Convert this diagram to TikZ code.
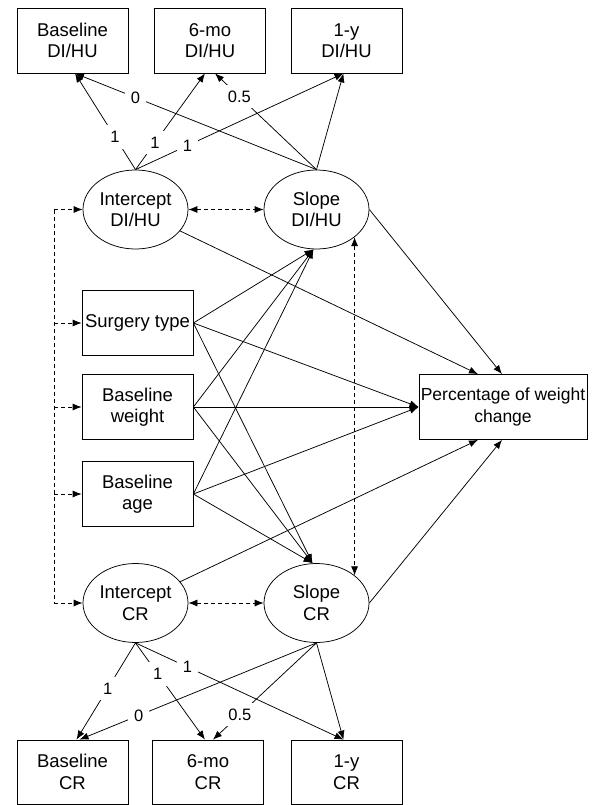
\documentclass[tikz,border=0pt]{standalone}
\usepackage{fontspec}
\setmainfont{Liberation Sans}
\usetikzlibrary{arrows.meta,shapes.geometric}
\newcommand{\boxfont}{\fontsize{18.5}{21.5}\selectfont}
\newcommand{\pctfont}{\fontsize{17.5}{21.5}\selectfont}
\newcommand{\coeffont}{\fontsize{16.5}{18}\selectfont}

\begin{document}
\begin{tikzpicture}[x=1pt,y=-1pt,font=\boxfont,line width=0.75pt,
  obs/.style={draw,rectangle,minimum width=111,minimum height=65,inner sep=0,align=center},
  lat/.style={draw,ellipse,minimum width=105,minimum height=79,inner sep=0,align=center},
  reg/.style={-{Latex[length=9pt,width=7pt]}},
  cov/.style={dash pattern=on 4pt off 3pt,{Latex[length=9pt,width=7pt]}-{Latex[length=9pt,width=7pt]}},
  cue/.style={dash pattern=on 4pt off 3pt,-{Latex[length=9pt,width=7pt]}},
  coef/.style={fill=white,inner sep=6pt,font=\coeffont}]
\useasboundingbox (0,0) rectangle (594,805);
% measured variables, DI/HU
\node[obs] (bdi) at (72.5,40.5) {Baseline\\DI/HU};
\node[obs] (mdi) at (210,40.5) {6-mo\\DI/HU};
\node[obs] (ydi) at (346.5,40.5) {1-y\\DI/HU};
% growth factors
\node[lat] (idi) at (135.5,209.5) {Intercept\\DI/HU};
\node[lat] (sdi) at (316.5,209.5) {Slope\\DI/HU};
\node[lat] (icr) at (135.5,603) {Intercept\\CR};
\node[lat] (scr) at (316.5,603) {Slope\\CR};
% covariates and outcome
\node[obs] (sur) at (137.5,323) {Surgery type};
\node[obs] (wgt) at (137.5,407) {Baseline\\weight};
\node[obs] (age) at (137.5,494) {Baseline\\age};
\node[obs,minimum width=168,font=\pctfont] (pct) at (503,407) {Percentage of weight\\change};
% measured variables, CR
\node[obs,minimum height=64] (bcr) at (72.5,772) {Baseline\\CR};
\node[obs,minimum height=64] (mcr) at (208,772) {6-mo\\CR};
\node[obs,minimum height=64] (ycr) at (346.5,772) {1-y\\CR};
\coordinate (lx) at (54,0);

\draw[reg] (idi.north) -- node[coef,pos=0.34] {1} ([xshift=2.5]bdi.south);
\draw[reg] (idi.north) -- node[coef,pos=0.28] {1} ([xshift=-5]mdi.south);
\draw[reg] (idi.north) -- node[coef,pos=0.25] {1} ([xshift=-3]ydi.south);
\draw[reg] (sdi.north) -- node[coef,pos=0.75] {0} ([xshift=2.5]bdi.south);
\draw[reg] (sdi.north) -- node[coef,pos=0.76] {0.5} ([xshift=5]mdi.south);
\draw[reg] (sdi.north) -- ([xshift=-3]ydi.south);

\draw[reg] (icr.south) -- node[coef,pos=0.47] {1} ([xshift=4]bcr.north);
\draw[reg] (icr.south) -- node[coef,pos=0.32] {1} ([xshift=-3]mcr.north);
\draw[reg] (icr.south) -- node[coef,pos=0.25] {1} ([xshift=-3]ycr.north);
\draw[reg] (scr.south) -- node[coef,pos=0.75] {0} ([xshift=7]bcr.north);
\draw[reg] (scr.south) -- node[coef,pos=0.74] {0.5} ([xshift=5]mcr.north);
\draw[reg] (scr.south) -- ([xshift=-3]ycr.north);

\foreach \v in {sur,wgt,age} {
  \draw[reg] (\v.east) -- ([xshift=-3]sdi.south);
  \draw[reg] (\v.east) -- (pct.west);
  \draw[reg] (\v.east) -- ([xshift=-4]scr.north);
}
\draw[reg] (idi) -- ([xshift=-25]pct.north);
\draw[reg] (sdi.east) -- ([xshift=-1]pct.north);
\draw[reg] (icr) -- ([xshift=-25]pct.south);
\draw[reg] (scr.east) -- ([xshift=-1]pct.south);

% covariances
\draw[cov] (idi) -- (sdi);
\draw[cov] (icr) -- (scr);
\draw[cov] (sdi.-36.4) -- (scr.36.4);
\draw[dash pattern=on 4pt off 3pt] (idi.west -| lx) -- (icr.west -| lx);
\foreach \v in {idi,sur,wgt,age,icr}
  \draw[cue] (\v.west -| lx) -- (\v.west);
\end{tikzpicture}
\end{document}
